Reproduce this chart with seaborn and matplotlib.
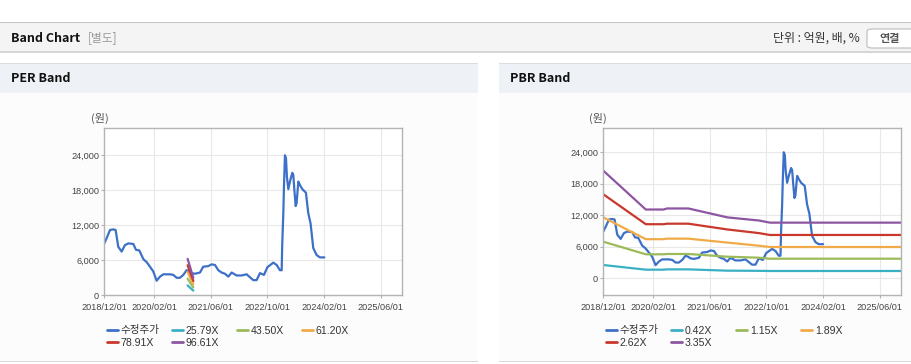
import pandas as pd
import numpy as np
import matplotlib
matplotlib.use('Agg')
import matplotlib.pyplot as plt
import matplotlib.dates as mdates
from matplotlib.patches import Rectangle, FancyBboxPatch
from matplotlib.lines import Line2D
from matplotlib.ticker import FuncFormatter
import seaborn as sns

# adjusted price (수정주가)
price_dates = ['2018-12-01', '2018-12-21', '2019-01-19', '2019-02-16', '2019-03-08', '2019-03-31',
               '2019-04-29', '2019-05-27', '2019-06-25', '2019-08-07', '2019-08-30', '2019-09-27',
               '2019-11-01', '2019-11-29', '2019-12-28', '2020-01-25', '2020-02-23', '2020-03-23',
               '2020-04-20', '2020-06-16', '2020-07-15', '2020-08-13', '2020-09-10', '2020-10-09',
               '2020-11-06', '2020-11-29', '2020-12-19', '2021-01-17', '2021-03-01', '2021-03-29',
               '2021-05-11', '2021-06-09', '2021-07-08', '2021-08-05', '2021-09-03', '2021-10-01',
               '2021-10-30', '2021-11-28', '2022-01-09', '2022-02-21', '2022-04-05', '2022-06-01',
               '2022-06-30', '2022-07-29', '2022-09-01', '2022-09-30', '2022-11-20', '2022-12-19',
               '2023-01-16', '2023-01-31', '2023-02-05', '2023-02-14', '2023-02-20', '2023-02-28',
               '2023-03-09', '2023-03-17', '2023-03-29', '2023-04-12', '2023-05-02', '2023-05-11',
               '2023-05-19', '2023-05-31', '2023-06-08', '2023-06-23', '2023-07-07', '2023-07-27',
               '2023-08-27', '2023-09-16', '2023-10-06', '2023-10-29', '2023-11-27', '2023-12-25',
               '2024-02-01']
price_values = [8900, 9800, 11200, 11300, 11200, 8300,
                7500, 8600, 8900, 8800, 7800, 7700,
                6200, 5700, 4900, 4100, 2500, 3200,
                3600, 3600, 3500, 3000, 3000, 3500,
                4300, 4100, 3800, 3700, 3900, 4900,
                5000, 5300, 5200, 4300, 3900, 3700,
                3200, 3900, 3400, 3400, 3600, 2600,
                2600, 3800, 3500, 4800, 5600, 5200,
                4300, 4300, 8900, 14000, 18900, 24000,
                23500, 20300, 18200, 19500, 21000, 20600,
                18300, 15300, 15800, 19500, 18900, 18200,
                17600, 14100, 12300, 8100, 6900, 6500,
                6500]

# PER bands (only a short stretch is drawn)
per_labels = ['25.79X', '43.50X', '61.20X', '78.91X', '96.61X']
per_dates = ['2020-11-15', '2020-12-09', '2021-01-03']
per_2579 = [1700, 1250, 800]
per_4350 = [2850, 2100, 1350]
per_6120 = [4000, 2950, 1900]
per_7891 = [5150, 3800, 2450]
per_9661 = [6250, 4650, 3000]

# PBR bands
pbr_labels = ['0.42X', '1.15X', '1.89X', '2.62X', '3.35X']
pbr_dates = ['2018-12-01', '2019-12-01', '2020-05-01', '2020-06-01', '2020-12-01',
             '2021-11-01', '2022-08-01', '2022-11-01', '2025-12-01']
pbr_042 = [2530, 1640, 1640, 1700, 1700, 1450, 1420, 1390, 1390]
pbr_115 = [6970, 4570, 4570, 4630, 4630, 4110, 3920, 3730, 3730]
pbr_189 = [11600, 7450, 7450, 7550, 7550, 6800, 6200, 5960, 5960]
pbr_262 = [16000, 10300, 10300, 10400, 10400, 9300, 8600, 8250, 8250]
pbr_335 = [20500, 13100, 13100, 13300, 13300, 11600, 11000, 10600, 10600]

yticks = [0, 6000, 12000, 18000, 24000]
xticks = ['2018-12-01', '2020-02-01', '2021-06-01', '2022-10-01', '2024-02-01', '2025-06-01']

price_color = '#3d70c8'
band_colors = ['#3bb0c4', '#9bbb59', '#f0ab48', '#c9382c', '#8e55a2']

sns.set_theme(style='white')
plt.rcParams['font.family'] = ['Liberation Sans', 'Noto Sans CJK KR', 'DejaVu Sans']
KR = ['Noto Sans CJK KR', 'DejaVu Sans']

W, H = 912, 364
fig = plt.figure(figsize=(W / 100, H / 100), dpi=100)
fig.patch.set_facecolor('white')


def fx(px):
    return px / W


def fy(py):
    return 1 - py / H


def box(x0, y0, x1, y1, color):
    fig.add_artist(Rectangle((fx(x0), fy(y1)), (x1 - x0) / W, (y1 - y0) / H,
                             transform=fig.transFigure, fc=color, ec='none', zorder=0))


# page chrome
box(0, 22, 912, 23, '#c4c4c4')
box(0, 23, 912, 51, '#f4f4f4')
box(0, 51, 912, 53, '#d6d6d6')
for x0, x1 in [(0, 478), (499, 912)]:
    box(x0, 63, x1, 64, '#dcdcdc')
    box(x0, 64, x1, 93, '#eef2f7')
    box(x0, 93, x1, 361, '#fcfcfc')
    box(x0, 361, x1, 362, '#d8d8d8')

fig.text(fx(11), fy(38), 'Band Chart', family=KR, fontweight='bold', fontsize=9,
         color='#111111', va='center')
fig.text(fx(88), fy(38), '[별도]', family=KR, fontsize=8.5, color='#999999', va='center')
fig.text(fx(860), fy(38), '단위 : 억원, 배, %', family=KR, fontsize=8.6, color='#333333',
         va='center', ha='right')
fig.add_artist(FancyBboxPatch((fx(867), fy(48)), (60) / W, 19 / H,
                              boxstyle='round,pad=0,rounding_size=0.006',
                              transform=fig.transFigure, fc='white', ec='#bbbbbb', lw=0.8))
fig.text(fx(890), fy(38.5), '연결', family=KR, fontsize=8, fontweight='bold',
         color='#555555', va='center', ha='center')
fig.text(fx(11), fy(79), 'PER Band', family=KR, fontweight='bold', fontsize=9,
         color='#111111', va='center')
fig.text(fx(510), fy(79), 'PBR Band', family=KR, fontweight='bold', fontsize=9,
         color='#111111', va='center')

price_df = pd.DataFrame({'date': pd.to_datetime(price_dates), 'value': price_values})


def band_frame(dates, labels, series):
    parts = []
    for lab, vals in zip(labels, series):
        parts.append(pd.DataFrame({'date': pd.to_datetime(dates), 'value': vals, 'band': lab}))
    return pd.concat(parts, ignore_index=True)


per_df = band_frame(per_dates, per_labels, [per_2579, per_4350, per_6120, per_7891, per_9661])
pbr_df = band_frame(pbr_dates, pbr_labels, [pbr_042, pbr_115, pbr_189, pbr_262, pbr_335])

panels = [
    (104.3, 402.3, per_df, per_labels, (0, 28630), 99.5, 108),
    (603.3, 901.0, pbr_df, pbr_labels, (-3240, 28570), 597.5, 607),
]

for left, right, bdf, labels, ylim, unit_x, leg_x in panels:
    ax = fig.add_axes([fx(left), fy(295.3), (right - left) / W, (295.3 - 128.3) / H])
    ax.set_facecolor('white')
    sns.lineplot(data=price_df, x='date', y='value', ax=ax, color=price_color, lw=1.6)
    sns.lineplot(data=bdf, x='date', y='value', hue='band', hue_order=labels,
                 palette=band_colors, ax=ax, lw=1.6, legend=False)
    ax.set_xlim(pd.Timestamp('2018-12-01'), pd.Timestamp('2025-12-01'))
    ax.set_ylim(*ylim)
    ax.set_yticks(yticks)
    ax.set_xticks(pd.to_datetime(xticks))
    ax.xaxis.set_major_formatter(mdates.DateFormatter('%Y/%m/%d'))
    ax.yaxis.set_major_formatter(FuncFormatter(lambda v, p: f'{v:,.0f}'))
    ax.set_xlabel('')
    ax.set_ylabel('')
    ax.grid(True, color='#e8e8e8', lw=0.8)
    ax.set_axisbelow(True)
    for s in ax.spines.values():
        s.set_color('#b4b4b4')
        s.set_linewidth(1)
    ax.tick_params(axis='both', labelsize=6.6, labelcolor='#444444', color='#b4b4b4',
                   length=2, width=0.8)
    ax.tick_params(axis='y', pad=1.8, left=True)
    ax.tick_params(axis='x', pad=3.5, bottom=True)

    fig.text(fx(unit_x), fy(118), '(원)', family=KR, fontsize=8, color='#555555',
             ha='center', va='center')

    # legend laid out in fixed-width columns like the original
    handles = [Line2D([], [], color=price_color, lw=2)] + \
              [Line2D([], [], color=c, lw=2) for c in band_colors]
    names = ['수정주가'] + labels
    columns = [[0, 4], [1, 5], [2], [3]]
    for j, idx in enumerate(columns):
        fig.legend([handles[i] for i in idx], [names[i] for i in idx],
                   loc='upper left', bbox_to_anchor=(fx(leg_x + 65 * j - 1), fy(325.5)),
                   bbox_transform=fig.transFigure, frameon=False, fontsize=7.6,
                   borderpad=0, borderaxespad=0, handlelength=1.0, handletextpad=0.3,
                   labelspacing=0.25, labelcolor='#333333')

fig.savefig('out.png', dpi=100, facecolor='white')
